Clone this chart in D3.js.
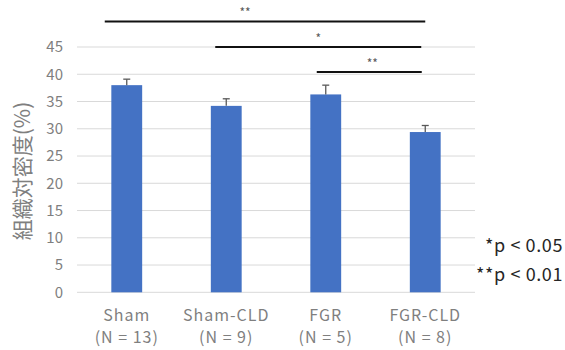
<!DOCTYPE html>
<html>
<head>
<meta charset="utf-8">
<script src="https://cdn.jsdelivr.net/npm/d3@7"></script>
<style>
  body { margin: 0; background: #fff; }
  text { font-family: "Noto Sans CJK JP", "Noto Sans", sans-serif; }
  .lat { font-family: Lato, "Noto Sans", sans-serif; }
</style>
</head>
<body>
<div id="chart"></div>
<script>
const groups = ["Sham", "Sham-CLD", "FGR", "FGR-CLD"];
const counts = ["(N = 13)", "(N = 9)", "(N = 5)", "(N = 8)"];
const means = [38.0, 34.2, 36.3, 29.4];
const errors = [1.1, 1.3, 1.7, 1.2];
const yTicks = [0, 5, 10, 15, 20, 25, 30, 35, 40, 45];

// significance brackets: from group, to group, height (in y units), label
const sigFrom = ["Sham", "Sham-CLD", "FGR"];
const sigTo = ["FGR-CLD", "FGR-CLD", "FGR-CLD"];
const sigLevel = [49.7, 45.0, 40.4];
const sigLabel = ["**", "*", "**"];
const legendLines = ["*p < 0.05", "**p < 0.01"];

const width = 565;
const height = 350;

const svg = d3.select("#chart").append("svg")
	.attr("width", width)
	.attr("height", height);

const x = d3.scaleBand().domain(groups).range([77, 475]).paddingInner(0.69).paddingOuter(0.345);
const y = d3.scaleLinear().domain([0, 45]).range([292.3, 47]);

// grid
svg.append("g")
	.selectAll("line")
	.data(yTicks)
	.join("line")
	.attr("x1", 77)
	.attr("x2", 475)
	.attr("y1", (d) => y(d))
	.attr("y2", (d) => y(d))
	.attr("stroke", "#d9d9d9")
	.attr("stroke-width", 1);

// y labels
svg.append("g")
	.selectAll("text")
	.data(yTicks)
	.join("text")
	.attr("x", 63)
	.attr("y", (d) => y(d))
	.attr("dy", "0.35em")
	.attr("text-anchor", "end")
	.attr("font-size", 15)
	.attr("fill", "#7f7f7f")
	.text((d) => d);

// y title
svg.append("text")
	.attr("transform", "translate(30,171) rotate(-90)")
	.attr("text-anchor", "middle")
	.attr("font-size", 21)
	.attr("fill", "#7f7f7f")
	.text("組織対密度(%)");

// bars
svg.append("g")
	.selectAll("rect")
	.data(groups)
	.join("rect")
	.attr("x", (d) => x(d))
	.attr("width", x.bandwidth())
	.attr("y", (d, i) => y(means[i]))
	.attr("height", (d, i) => y(0) - y(means[i]))
	.attr("fill", "#4472c4");

// error bars
const err = svg.append("g").attr("stroke", "#595959").attr("stroke-width", 1.3);
groups.forEach((g, i) => {
	const cx = x(g) + x.bandwidth() / 2;
	err.append("line").attr("x1", cx).attr("x2", cx).attr("y1", y(means[i])).attr("y2", y(means[i] + errors[i]));
	err.append("line").attr("x1", cx - 3.5).attr("x2", cx + 3.5).attr("y1", y(means[i] + errors[i])).attr("y2", y(means[i] + errors[i]));
});

// x labels
const xl = svg.append("g")
	.attr("class", "lat")
	.attr("font-size", 16)
	.attr("letter-spacing", 1)
	.attr("fill", "#7f7f7f")
	.attr("text-anchor", "middle");
groups.forEach((g, i) => {
	const cx = x(g) + x.bandwidth() / 2;
	xl.append("text").attr("x", cx).attr("y", 321).text(g);
	xl.append("text").attr("x", cx).attr("y", 343).text(counts[i]);
});

// significance brackets
const startShift = [22, 11, 9];
const endShift = [0, -4, -3.5];
const labelShift = [-20, 0, 3];
sigFrom.forEach((f, i) => {
	const x1 = x(f) + x.bandwidth() / 2 - startShift[i];
	const x2 = x(sigTo[i]) + x.bandwidth() / 2 + endShift[i];
	const ly = y(sigLevel[i]);
	svg.append("line")
		.attr("x1", x1).attr("x2", x2)
		.attr("y1", ly).attr("y2", ly)
		.attr("stroke", "#111")
		.attr("stroke-width", 2);
	svg.append("text")
		.attr("x", (x1 + x2) / 2 + labelShift[i])
		.attr("y", ly - 4)
		.attr("text-anchor", "middle")
		.attr("font-size", 12)
		.attr("fill", "#595959")
		.text(sigLabel[i]);
});

// legend
svg.append("g")
	.attr("class", "lat")
	.selectAll("text")
	.data(legendLines)
	.join("text")
	.attr("x", 563)
	.attr("y", (d, i) => 252 + i * 29)
	.attr("text-anchor", "end")
	.attr("font-size", 18)
	.attr("letter-spacing", 0.6)
	.attr("fill", "#262626")
	.text((d) => d);
</script>
</body>
</html>
